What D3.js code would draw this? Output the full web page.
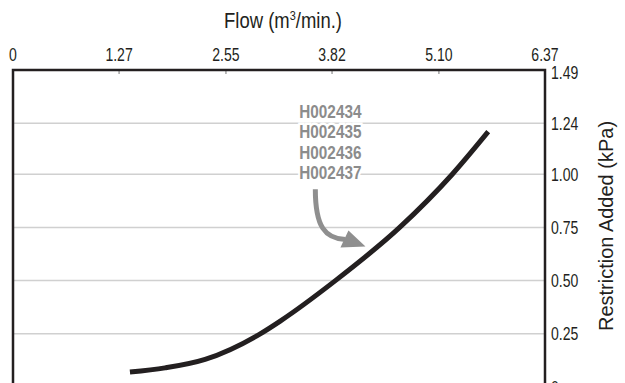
<!DOCTYPE html>
<meta charset="utf-8">
<style>
  body { margin: 0; background: #fff; }
  svg { display: block; overflow: hidden; }
  text {
    font-family: "Liberation Sans", Arial, sans-serif;
    fill: #231f20;
  }
  .grid line { stroke: #d0d0d0; stroke-width: 1.5px; }
  .frame { fill: none; stroke: #231f20; stroke-width: 2.5px; }
  .x.axis line { stroke: #777; stroke-width: 1px; }
  .tick-label { font-size: 19px; }
  .axis-title { font-size: 22px; }
  .y-title { font-size: 20px; }
  .curve { fill: none; stroke: #231f20; stroke-width: 5px; }
  .note text {
    font-size: 18px; font-weight: bold; fill: #8c8c8c;
    stroke: #fff; stroke-width: 5px; paint-order: stroke;
  }
  .arrow { fill: none; stroke: #8f8f8f; stroke-width: 5px; }
  .arrow-head { fill: #8f8f8f; }
</style>
<body>
<div id="chart"></div>
<script src="https://cdn.jsdelivr.net/npm/d3@7"></script>
<script>
// values
var flowTicks = [0, 1.27, 2.55, 3.82, 5.10, 6.37];
var flowLabels = ["0", "1.27", "2.55", "3.82", "5.10", "6.37"];
var restrictionTicks = [0, 0.25, 0.50, 0.75, 1.00, 1.24, 1.49];
var restrictionLabels = ["0", "0.25", "0.50", "0.75", "1.00", "1.24", "1.49"];

var flow        = [1.40, 1.82, 2.30, 2.96, 3.20, 3.86, 4.63, 5.26, 5.69];
var restriction = [0.07, 0.09, 0.13, 0.25, 0.31, 0.50, 0.75, 1.00, 1.20];

var partNumbers = ["H002434", "H002435", "H002436", "H002437"];
// arrow from under the part numbers to the curve (data units)
var arrowFrom = [3.62, 0.93];
var arrowTo = [4.22, 0.66];

var W = 625, H = 383;
var margin = {top: 70, right: 80, bottom: 0, left: 13};
var width = 532, height = 317; // plot runs past the bottom edge, like the original

var svg = d3.select("#chart").append("svg")
  .attr("width", W)
  .attr("height", H);

var g = svg.append("g")
  .attr("transform", "translate(" + margin.left + "," + margin.top + ")");

var x = d3.scaleLinear().domain([0, 6.37]).range([0, width]);
var y = d3.scaleLinear().domain([0, 1.49]).range([height, 0]);

// the original uses a condensed face, so squeeze the text sideways
function place(sel, px, py, k, rot) {
  sel.attr("transform", function(d, i) {
    return "translate(" + px(d, i) + "," + py(d, i) + ")" +
      (rot ? " rotate(" + rot + ")" : "") + " scale(" + k + ",1)";
  });
}

// gridlines
g.append("g").attr("class", "grid")
  .selectAll("line")
  .data(restrictionTicks.slice(0, -1))
  .enter().append("line")
  .attr("x1", 0).attr("x2", width)
  .attr("y1", function(d) { return y(d); })
  .attr("y2", function(d) { return y(d); });

// top axis: tick marks and labels
var xAxis = g.append("g").attr("class", "x axis");
xAxis.selectAll("line")
  .data(flowTicks.slice(1, -1))
  .enter().append("line")
  .attr("x1", function(d) { return x(d); })
  .attr("x2", function(d) { return x(d); })
  .attr("y1", 0).attr("y2", 4);
xAxis.selectAll("text")
  .data(flowTicks)
  .enter().append("text")
  .attr("class", "tick-label")
  .attr("text-anchor", "middle")
  .text(function(d, i) { return flowLabels[i]; })
  .call(place, function(d) { return x(d); }, function() { return -9; }, 0.74);

// right axis labels
g.append("g").attr("class", "y axis")
  .selectAll("text")
  .data(restrictionTicks)
  .enter().append("text")
  .attr("class", "tick-label")
  .attr("dy", function(d, i) { return i === restrictionTicks.length - 1 ? "0.45em" : "0.35em"; })
  .text(function(d, i) { return restrictionLabels[i]; })
  .call(place, function() { return width + 6; }, function(d) { return y(d); }, 0.74);

// frame: top, left, right
g.append("path")
  .attr("class", "frame")
  .attr("d", "M0," + (height + 10) + "V0H" + width + "V" + (height + 10));

// titles
svg.append("text")
  .datum(0)
  .attr("class", "axis-title")
  .attr("text-anchor", "middle")
  .html("Flow (m<tspan dy='-8' font-size='13'>3</tspan><tspan dy='8'>/min.)</tspan>")
  .call(place, function() { return 283; }, function() { return 28; }, 0.84);

svg.append("text")
  .datum(0)
  .attr("class", "y-title")
  .attr("text-anchor", "middle")
  .text("Restriction Added (kPa)")
  .call(place, function() { return 613; }, function() { return 226; }, 1, -90);

// the curve
var pts = flow.map(function(f, i) { return [f, restriction[i]]; });
var line = d3.line()
  .x(function(d) { return x(d[0]); })
  .y(function(d) { return y(d[1]); })
  .curve(d3.curveMonotoneX);

g.append("path")
  .attr("class", "curve")
  .attr("d", line(pts));

// annotation
var note = g.append("g").attr("class", "note");
note.selectAll("text")
  .data(partNumbers)
  .enter().append("text")
  .attr("text-anchor", "middle")
  .text(function(d) { return d; })
  .call(place, function() { return x(3.80); },
        function(d, i) { return y(1.49) + 48 + i * 20.3; }, 0.85);

var x0 = x(arrowFrom[0]), y0 = y(arrowFrom[1]);
var x1 = x(arrowTo[0]), y1 = y(arrowTo[1]);
var p = d3.path();
p.moveTo(x0, y0);
p.bezierCurveTo(x0, y0 + 38, x0 + 10, y1 - 8, x1 - 20, y1 - 7);
note.append("path").attr("class", "arrow").attr("d", p.toString());

note.append("path")
  .attr("class", "arrow-head")
  .attr("d", "M" + (x1 - 25) + "," + (y1 + 1) +
             "L" + (x1 - 17) + "," + (y1 - 16) +
             "L" + x1 + "," + y1 + "Z");
</script>
</body>
